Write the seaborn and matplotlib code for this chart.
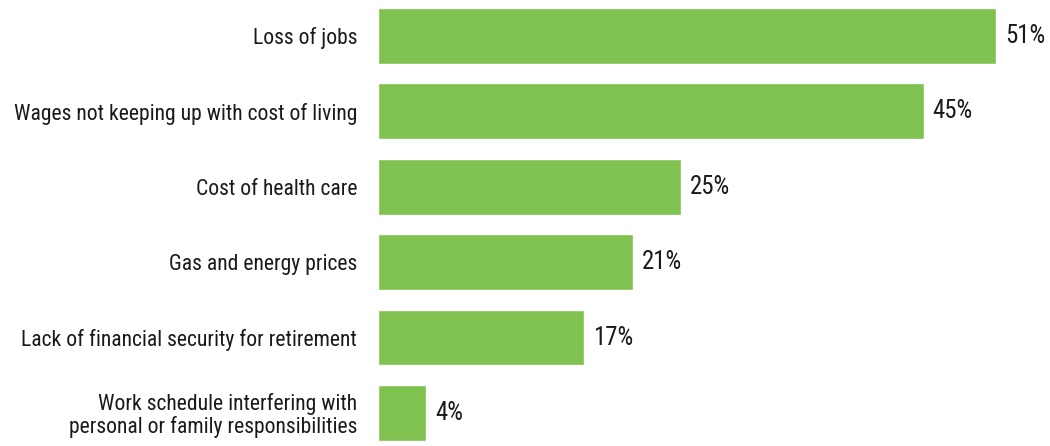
import matplotlib
matplotlib.use("Agg")
import matplotlib.pyplot as plt
from matplotlib import font_manager as fm
import seaborn as sns
import pandas as pd

categories = [
    "Loss of jobs",
    "Wages not keeping up with cost of living",
    "Cost of health care",
    "Gas and energy prices",
    "Lack of financial security for retirement",
    "Work schedule interfering with\npersonal or family responsibilities",
]
values = [51, 45, 25, 21, 17, 4]
value_labels = ["51%", "45%", "25%", "21%", "17%", "4%"]

sns.set_theme(style="white")

# pick a condensed face if available
names = {f.name for f in fm.fontManager.ttflist}
condensed = [f for f in fm.fontManager.ttflist
             if f.stretch in ("condensed", "semi-condensed", "extra-condensed", 600, 500) or
             "Narrow" in f.name or "Condensed" in f.name]
family = None
stretch = "normal"
for cand in ["Liberation Sans Narrow", "Roboto Condensed", "Open Sans Condensed", "Noto Sans Condensed"]:
    if cand in names:
        family = cand
        break
if family is None:
    for f in condensed:
        if f.name in ("DejaVu Sans", "Noto Sans", "Open Sans", "Roboto"):
            family = f.name
            stretch = "condensed"
            break
if family is None:
    family = "Roboto"
plt.rcParams['font.family'] = [family, 'DejaVu Sans']
plt.rcParams['font.stretch'] = stretch

df = pd.DataFrame({"cat": categories, "val": values})

fig = plt.figure(figsize=(10.5, 4.46), dpi=100)
ax = fig.add_axes([0.36, 0.0, 0.635, 1.0])
sns.barplot(data=df, x="val", y="cat", color="#80C24F", saturation=1,
            width=0.74, ax=ax, orient="h")
ax.set_xlim(0, 55.0)
ax.set_ylim(5.438, -0.477)

# size labels so the longest single line matches the reference width (~347 px)
renderer = fig.canvas.get_renderer()
probe = fig.text(0, 0, "Wages not keeping up with cost of living", fontsize=13.5)
w = probe.get_window_extent(renderer).width
probe.remove()
fs = min(13.5 * 345.0 / w, 16.5)

for i, (v, lab) in enumerate(zip(values, value_labels)):
    ax.text(v + 0.75, i, lab, va="center", ha="left", fontsize=fs * 1.15, color="#1a1a1a")
ax.set_xlabel("")
ax.set_ylabel("")
ax.set_xticks([])
ax.tick_params(axis="y", length=0, pad=15, labelsize=fs, labelcolor="#1a1a1a")
for lbl in ax.get_yticklabels():
    lbl.set_linespacing(1.05)
for s in ax.spines.values():
    s.set_visible(False)
fig.savefig("out.png", dpi=100)
